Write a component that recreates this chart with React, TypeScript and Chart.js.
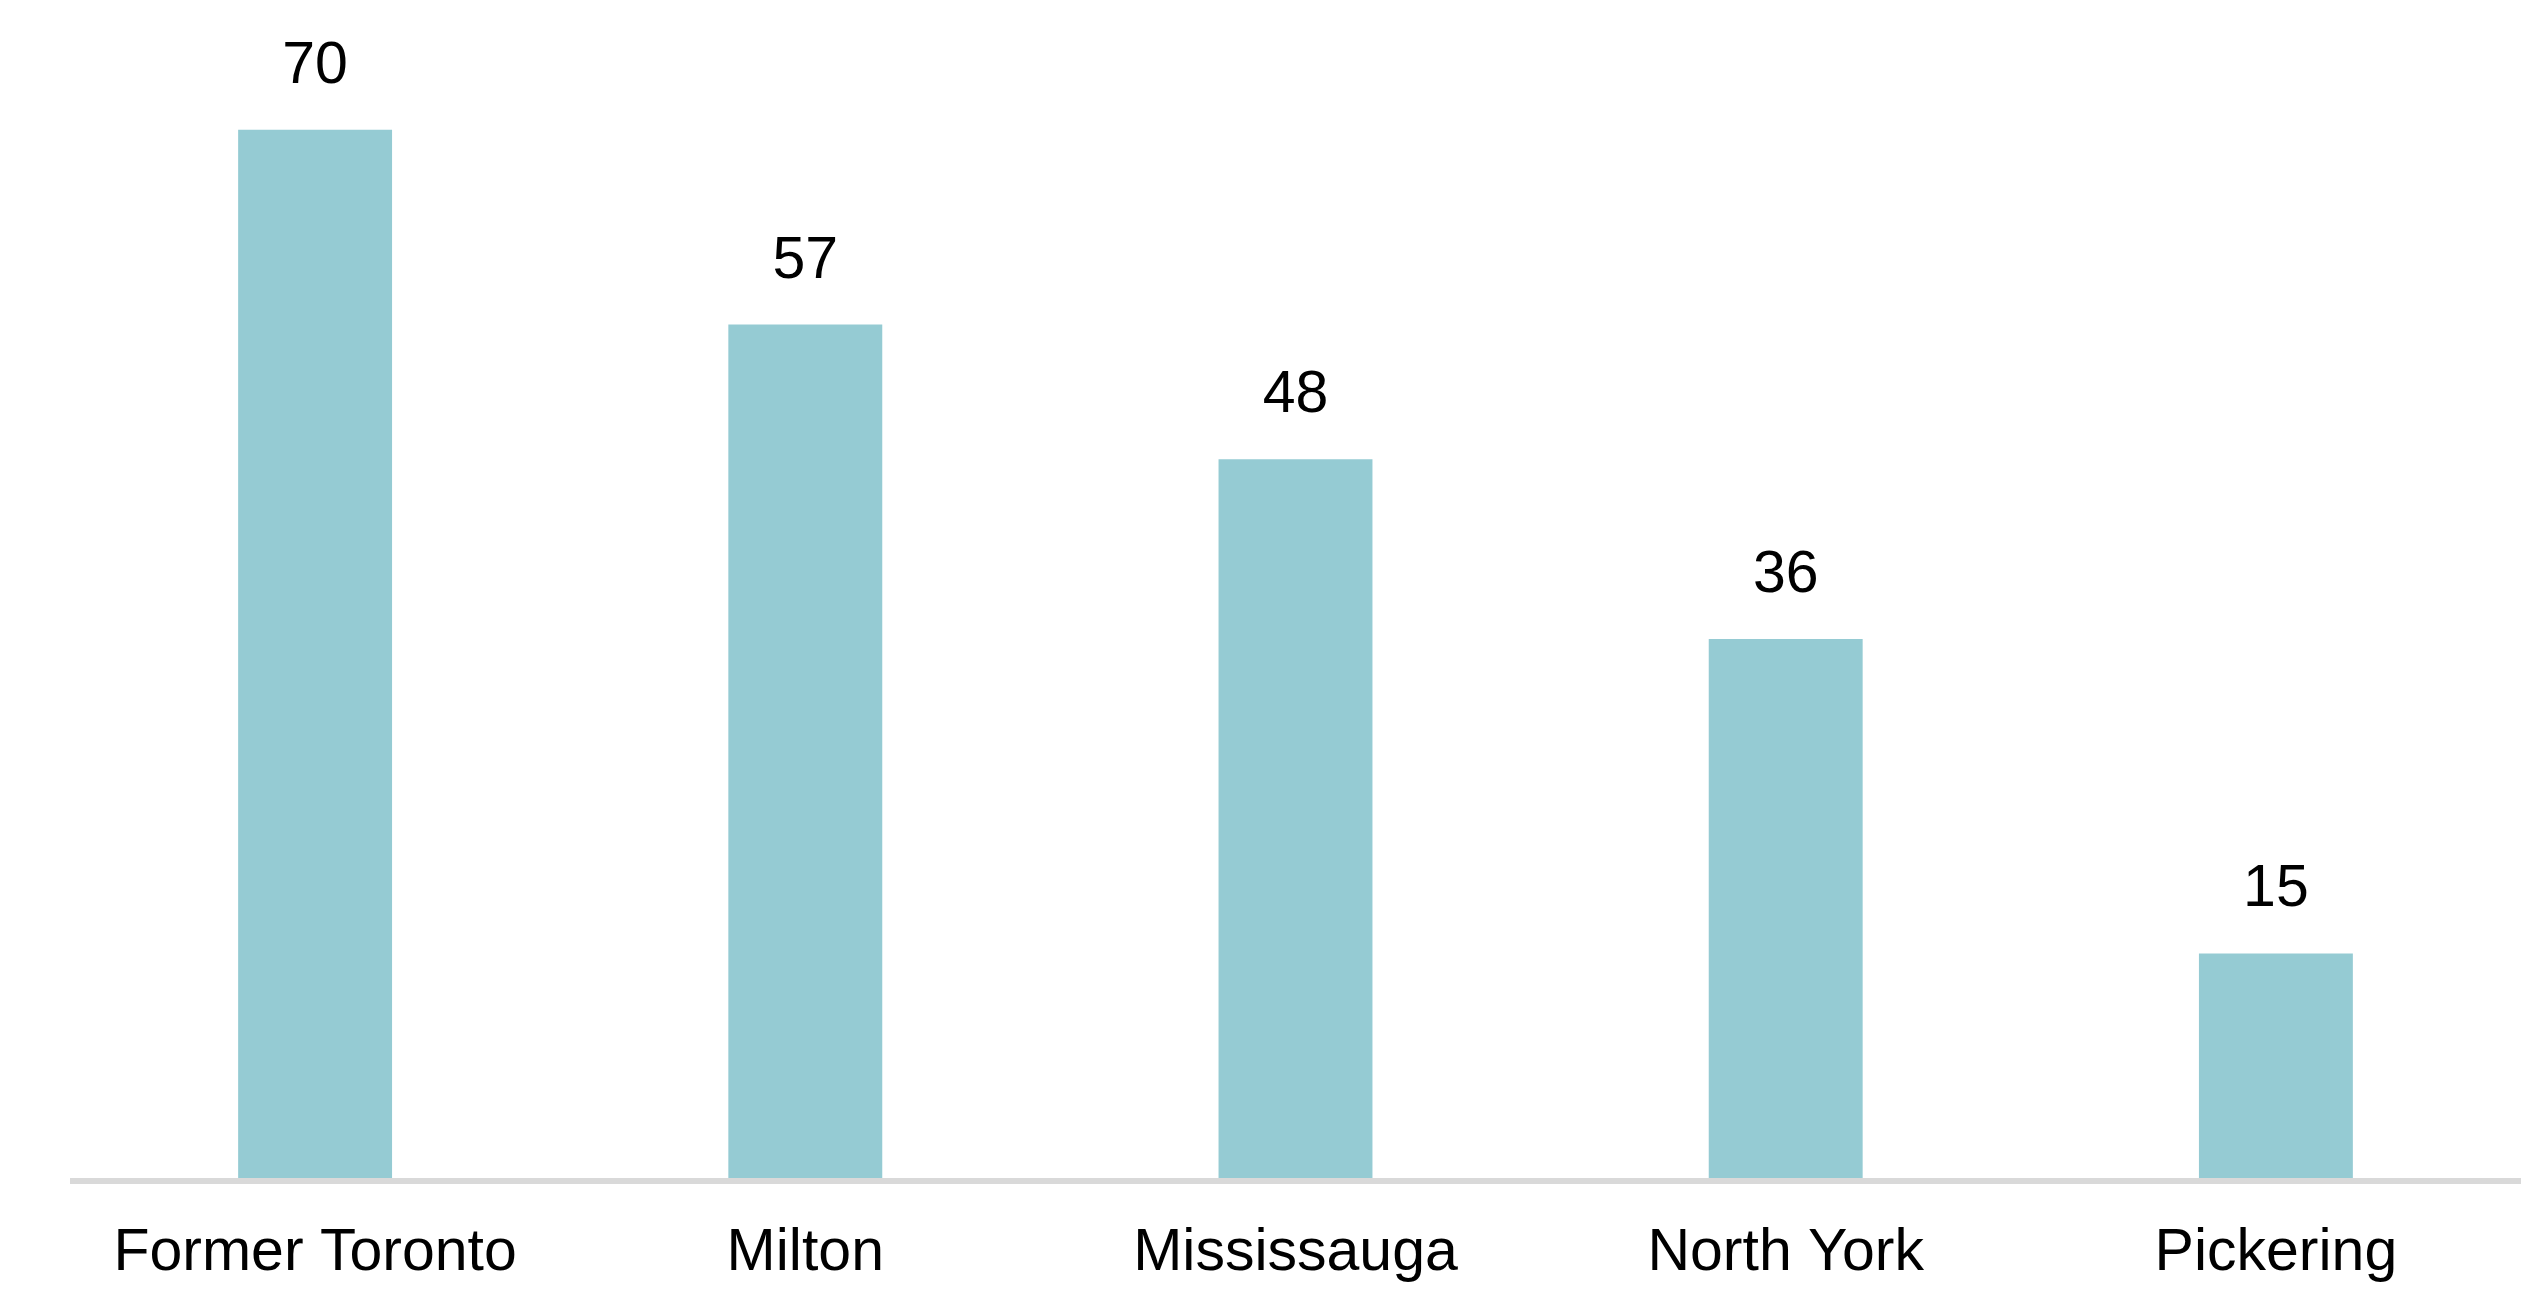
import React, { useEffect, useRef } from "react";
import { Chart, registerables } from "chart.js";

Chart.register(...registerables);

const categories = ["Former Toronto", "Milton", "Mississauga", "North York", "Pickering"];
const values = [70, 57, 48, 36, 15];

const FONT = '"Liberation Sans", Arial, sans-serif';
const BAR_COLOR = "#95CBD3";

const labelsPlugin = {
  id: "valueLabels",
  afterDatasetsDraw(chart: any) {
    const { ctx, chartArea } = chart;
    // axis line
    ctx.save();
    ctx.strokeStyle = "#d9d9d9";
    ctx.lineWidth = 6;
    ctx.beginPath();
    ctx.moveTo(chartArea.left, chartArea.bottom + 3);
    ctx.lineTo(chartArea.right, chartArea.bottom + 3);
    ctx.stroke();
    ctx.restore();

    const meta = chart.getDatasetMeta(0);
    ctx.save();
    ctx.fillStyle = "#000000";
    ctx.font = `59px ${FONT}`;
    ctx.textAlign = "center";
    ctx.textBaseline = "alphabetic";
    meta.data.forEach((bar: any, i: number) => {
      ctx.fillText(String(values[i]), bar.x, bar.y - 47);
    });
    ctx.restore();
  },
};

export default function App() {
  const canvasRef = useRef<HTMLCanvasElement | null>(null);

  useEffect(() => {
    const canvas = canvasRef.current;
    if (!canvas) return;
    const chart = new Chart(canvas, {
      type: "bar",
      data: {
        labels: categories,
        datasets: [
          {
            data: values,
            backgroundColor: BAR_COLOR,
            borderWidth: 0,
            categoryPercentage: 1,
            barPercentage: 0.314,
          },
        ],
      },
      options: {
        responsive: false,
        animation: false,
        layout: { padding: { left: 70, right: 14, top: 55, bottom: 0 } },
        plugins: {
          legend: { display: false },
          tooltip: { enabled: false },
        },
        scales: {
          x: {
            grid: { display: false, drawTicks: false },
            border: { display: false },
            ticks: {
              color: "#000000",
              padding: 40,
              maxRotation: 0,
              autoSkip: false,
              font: { family: FONT, size: 59 },
            },
            afterFit: (scale: any) => {
              scale.height = 114;
            },
          },
          y: {
            display: false,
            min: 0,
            max: 75,
          },
        },
      },
      plugins: [labelsPlugin],
    });
    return () => chart.destroy();
  }, []);

  return (
    <div style={{ position: "absolute", left: 0, top: 0, width: 2535, height: 1292, background: "#ffffff" }}>
      <canvas ref={canvasRef} width={2535} height={1292} />
    </div>
  );
}
